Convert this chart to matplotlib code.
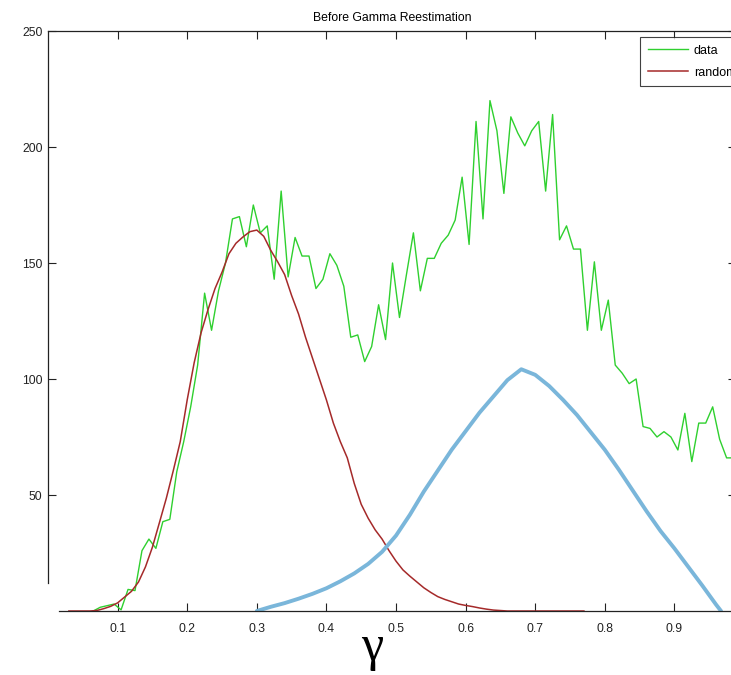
import numpy as np
import matplotlib
matplotlib.use("Agg")
import matplotlib.pyplot as plt

# Observed gamma histogram (bin centres every 0.01)
data_x = [0.065, 0.075, 0.085, 0.095, 0.105, 0.115, 0.125, 0.135, 0.145, 0.155,
          0.165, 0.175, 0.185, 0.195, 0.205, 0.215, 0.225, 0.235, 0.245, 0.255,
          0.265, 0.275, 0.285, 0.295, 0.305, 0.315, 0.325, 0.335, 0.345, 0.355,
          0.365, 0.375, 0.385, 0.395, 0.405, 0.415, 0.425, 0.435, 0.445, 0.455,
          0.465, 0.475, 0.485, 0.495, 0.505, 0.515, 0.525, 0.535, 0.545, 0.555,
          0.565, 0.575, 0.585, 0.595, 0.605, 0.615, 0.625, 0.635, 0.645, 0.655,
          0.665, 0.675, 0.685, 0.695, 0.705, 0.715, 0.725, 0.735, 0.745, 0.755,
          0.765, 0.775, 0.785, 0.795, 0.805, 0.815, 0.825, 0.835, 0.845, 0.855,
          0.865, 0.875, 0.885, 0.895, 0.905, 0.915, 0.925, 0.935, 0.945, 0.955,
          0.965, 0.975, 0.985]
data_y = [0, 1.6, 2.3, 3.0, 0.5, 9.3, 8.8, 26, 31, 27,
          38.5, 39.5, 60, 73, 88, 106, 137, 121, 138, 150,
          169, 170, 157, 175, 163, 166, 143, 181, 144, 161,
          153, 153, 139, 143, 154, 149, 140, 118, 119, 107.5,
          114, 132, 117, 150, 126.5, 145, 163, 138, 152, 152,
          158.5, 162, 168.5, 187, 158, 211, 169, 220, 207, 180,
          213, 206, 200.5, 207, 211, 181, 214, 160, 166, 156,
          156, 121, 150.5, 121, 134, 106, 102.5, 98, 100, 79.5,
          78.7, 75, 77.3, 75, 69.4, 85.2, 64.4, 81, 81, 88,
          74, 66, 66]

# Fitted "random" component
random_x = [0.03, 0.04, 0.05, 0.06, 0.07, 0.08, 0.09, 0.10, 0.11, 0.12,
            0.13, 0.14, 0.15, 0.16, 0.17, 0.18, 0.19, 0.20, 0.21, 0.22,
            0.23, 0.24, 0.25, 0.26, 0.27, 0.28, 0.29, 0.30, 0.31, 0.32,
            0.33, 0.34, 0.35, 0.36, 0.37, 0.38, 0.39, 0.40, 0.41, 0.42,
            0.43, 0.44, 0.45, 0.46, 0.47, 0.48, 0.49, 0.50, 0.51, 0.52,
            0.53, 0.54, 0.55, 0.56, 0.57, 0.58, 0.59, 0.60, 0.61, 0.62,
            0.63, 0.64, 0.65, 0.66, 0.68, 0.70, 0.72, 0.74, 0.77]
random_y = [0, 0, 0, 0, 0.2, 1.0, 2.0, 3.5, 6.0, 8.5,
            12.5, 19, 27.5, 38, 48.6, 60.5, 73, 91, 107, 120,
            130, 139, 146, 154, 158.5, 161.2, 163.5, 164.2, 161.5, 155.5,
            150.5, 145, 136, 128, 118, 109, 100, 91, 81, 73,
            66, 55, 46, 40, 35, 31, 26, 21.5, 17.7, 15,
            12.5, 10, 8, 6.2, 5, 4, 3, 2.4, 1.9, 1.3,
            0.8, 0.4, 0.2, 0, 0, 0, 0, 0, 0]

# Second fitted component
comp_x = [0.30, 0.32, 0.34, 0.36, 0.38, 0.40, 0.42, 0.44, 0.46, 0.48,
          0.50, 0.52, 0.54, 0.56, 0.58, 0.60, 0.62, 0.64, 0.66, 0.68,
          0.70, 0.72, 0.74, 0.76, 0.78, 0.80, 0.82, 0.84, 0.86, 0.88,
          0.90, 0.92, 0.94, 0.96, 0.967]
comp_y = [0, 1.8, 3.4, 5.3, 7.4, 9.8, 12.8, 16.2, 20.3, 25.5,
          32.5, 41.5, 51.5, 60.5, 69.5, 77.5, 85.5, 92.5, 99.5, 104.2,
          101.8, 97, 91, 84.5, 77, 69.5, 61, 52, 43, 34.5,
          27, 19, 11, 2.7, 0]

x_ticks = [0.1, 0.2, 0.3, 0.4, 0.5, 0.6, 0.7, 0.8, 0.9]
y_ticks = [50, 100, 150, 200, 250]

plt.rcParams['font.family'] = ['Liberation Sans', 'DejaVu Sans']

fig = plt.figure(figsize=(7.31, 6.75), dpi=100)
W, H = 731, 675
ax = fig.add_axes([48 / W, 1 - 611 / H, (736 - 48) / W, (611 - 31) / H])

ax.plot(data_x, data_y, color='#2fd02f', lw=1.0, label='data')
ax.plot(random_x, random_y, color='#a52a2a', lw=1.1, label='random')
ax.plot(comp_x, comp_y, color='#7ab6da', lw=2.8, solid_capstyle='round')

ax.set_xlim(0, 0.9885)
ax.set_ylim(0, 250)
ax.set_xticks(x_ticks)
ax.set_xticklabels([f"{t:.1f}" for t in x_ticks])
ax.set_yticks(y_ticks)
ax.set_yticklabels([str(t) for t in y_ticks])
ax.tick_params(direction='in', length=6, width=0.8, top=True, right=True,
               labelsize=8.8, colors='#222222')
ax.tick_params(axis='x', pad=9)
ax.tick_params(axis='y', pad=4)

for s in ax.spines.values():
    s.set_linewidth(0.9)
    s.set_color('#222222')
ax.spines['left'].set_bounds(12, 250)
ax.spines['bottom'].set_bounds(0.016, 0.9885)

ax.set_title('Before Gamma Reestimation', fontsize=8.8, pad=7)

leg = ax.legend(loc='upper left', bbox_to_anchor=(640 / W, 1 - 37 / H),
                bbox_transform=fig.transFigure, fontsize=9, frameon=True,
                fancybox=False, edgecolor='#111111', handlelength=3.2,
                labelspacing=0.8, borderpad=0.6, handletextpad=0.5,
                borderaxespad=0)
leg.get_frame().set_linewidth(0.8)

fig.text(372 / W, 1 - 648 / H, 'γ', family='Liberation Serif', fontsize=36,
         ha='center', va='center')

fig.savefig('out.png', dpi=100)
